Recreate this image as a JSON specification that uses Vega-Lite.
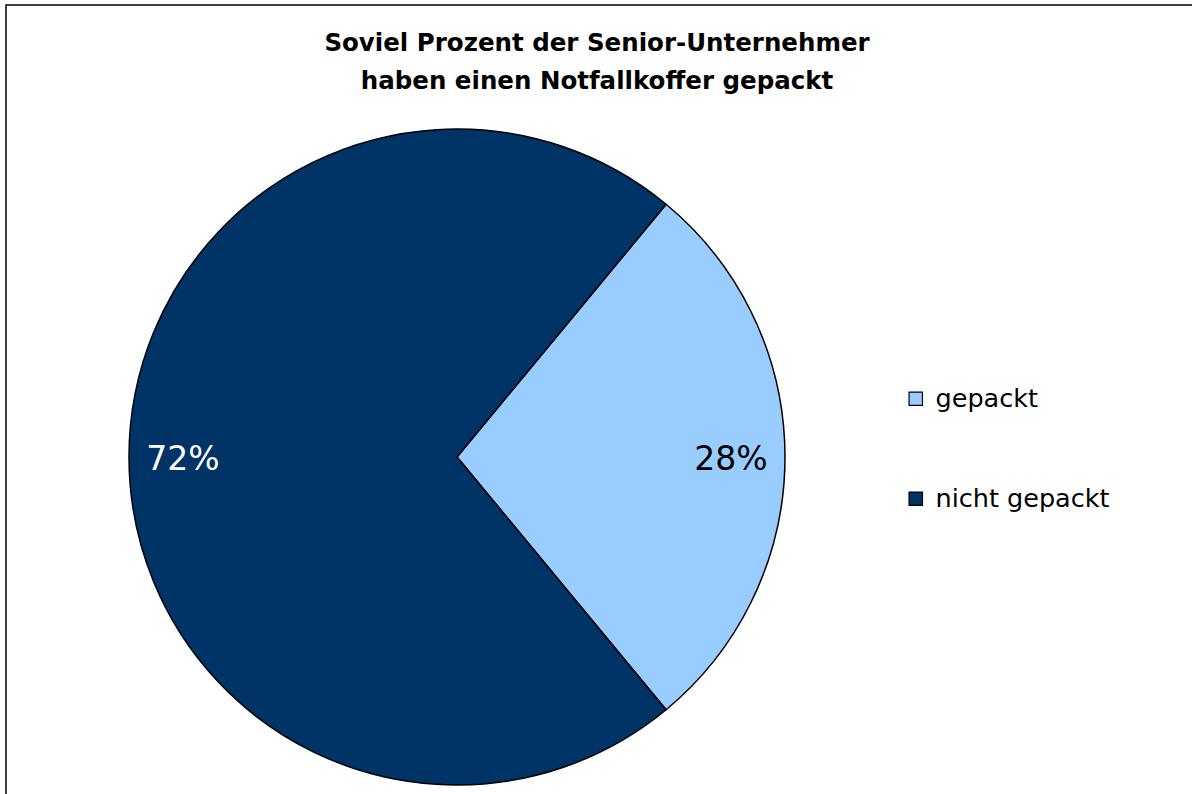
{
  "$schema": "https://vega.github.io/schema/vega-lite/v6.json",
  "width": 1200,
  "height": 800,
  "autosize": "none",
  "padding": {"left": 6, "top": 5, "right": 0, "bottom": 0},
  "background": "white",
  "view": {"stroke": "#000000", "strokeWidth": 1.5, "fill": "white"},
  "title": {
    "text": ["Soviel Prozent der Senior-Unternehmer", "haben einen Notfallkoffer gepackt"],
    "font": "DejaVu Sans",
    "fontSize": 24.5,
    "fontWeight": "bold",
    "color": "#000000",
    "anchor": "middle",
    "dx": -9,
    "offset": -89,
    "baseline": "top",
    "lineHeight": 38
  },
  "data": {
    "values": [
      {"category": "gepackt", "share": 0.28},
      {"category": "nicht gepackt", "share": 0.72}
    ]
  },
  "encoding": {
    "theta": {"field": "share", "type": "quantitative", "stack": true, "scale": {"range": [0.6912, 6.9744]}},
    "order": {"field": "category", "type": "nominal", "sort": "ascending"}
  },
  "layer": [
    {
      "mark": {"type": "arc", "outerRadius": 328, "x": 451, "y": 452, "stroke": "#000000", "strokeWidth": 1.5},
      "encoding": {
        "color": {
          "field": "category",
          "type": "nominal",
          "scale": {"domain": ["gepackt", "nicht gepackt"], "range": ["#99CCFF", "#003366"]},
          "legend": {
            "orient": "none",
            "legendX": 897,
            "legendY": 381,
            "title": null,
            "symbolType": "square",
            "symbolSize": 180,
            "symbolStrokeColor": "#000000",
            "symbolStrokeWidth": 1.2,
            "labelFont": "DejaVu Sans",
            "labelFontSize": 25.5,
            "labelColor": "#000000",
            "labelLimit": 400,
            "labelOffset": 7,
            "rowPadding": 73
          }
        }
      }
    },
    {
      "mark": {"type": "text", "radius": 274, "x": 451, "y": 455, "font": "DejaVu Sans", "fontSize": 33},
      "encoding": {
        "text": {"field": "share", "type": "quantitative", "format": ".0%"},
        "color": {
          "field": "category",
          "type": "nominal",
          "scale": {"domain": ["gepackt", "nicht gepackt"], "range": ["#000000", "#FFFFFF"]},
          "legend": null
        }
      }
    }
  ],
  "resolve": {"scale": {"color": "independent"}},
  "config": {"view": {"stroke": "#000000", "strokeWidth": 1.5}, "style": {"cell": {"stroke": "#000000", "strokeWidth": 1.5}}}
}
